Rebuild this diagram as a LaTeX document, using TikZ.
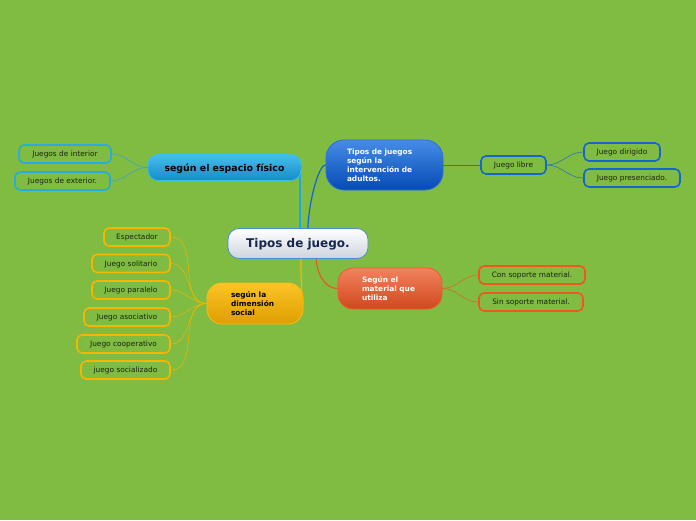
\documentclass[tikz,border=0pt]{standalone}
\usepackage{fontspec}
\setmainfont{DejaVu Sans}
\definecolor{bg}{HTML}{80BC42}
\definecolor{cyanb}{HTML}{2AAAE2}
\definecolor{blueb}{HTML}{1464D6}
\definecolor{yelb}{HTML}{F7B500}
\definecolor{orb}{HTML}{F0561E}
\definecolor{leaftext}{HTML}{1A2410}
\definecolor{cborder}{HTML}{4A90C8}
\definecolor{cbottom}{HTML}{CDD4DE}
\definecolor{ctext}{HTML}{16264E}
\definecolor{espborder}{HTML}{3CBEEB}
\definecolor{esptop}{HTML}{46BEEB}
\definecolor{espbot}{HTML}{148CC8}
\definecolor{aduborder}{HTML}{286EDC}
\definecolor{adutop}{HTML}{468CE6}
\definecolor{adubot}{HTML}{054BB4}
\definecolor{socborder}{HTML}{FABE14}
\definecolor{soctop}{HTML}{FCC428}
\definecolor{socbot}{HTML}{DE9E00}
\definecolor{matborder}{HTML}{F05A28}
\definecolor{mattop}{HTML}{F2825F}
\definecolor{matbot}{HTML}{D0481C}
\definecolor{espline}{HTML}{1EAAE1}
\definecolor{espthin}{HTML}{28A0DC}
\tikzset{
  leaf/.style={draw=#1, line width=1.6pt, fill=bg, rounded corners=5pt, inner sep=0pt,
    minimum height=18pt, text height=5.3pt, text depth=0pt,
    font=\fontsize{7.4}{8}\selectfont, text=leaftext},
  mainnode/.style={draw=#1, line width=0.8pt, inner sep=0pt},
  conn/.style={draw=#1, line width=1.2pt},
  thinconn/.style={draw=#1, line width=0.6pt, opacity=0.8},
}
\begin{document}
\begin{tikzpicture}[x=1pt,y=-1pt]
\fill[bg] (0,0) rectangle (696,520);
\useasboundingbox (0,0) rectangle (696,520);

\coordinate (ct1) at (300,228);
\draw[conn=espline] (ct1) -- (300,167) coordinate (ct2);

% central
\node[mainnode=cborder, top color=white, bottom color=cbottom,
  minimum width=140pt, minimum height=30pt, rounded corners=11pt,
  text height=8.8pt, text depth=0pt,
  font=\fontsize{12}{14}\selectfont\bfseries, text=ctext] (c) at (298,243.5) {Tipos de juego.};

% main nodes
\node[mainnode=espborder, top color=esptop, bottom color=espbot,
  minimum width=153pt, minimum height=26pt, rounded corners=10pt,
  text height=7pt, text depth=0pt,
  font=\fontsize{9.4}{11}\selectfont\bfseries, text=black] (esp) at (224.5,167.5) {según el espacio físico};

\node[mainnode=aduborder, top color=adutop, bottom color=adubot,
  minimum width=117pt, minimum height=50pt, rounded corners=18pt,
  text width=75pt, align=left, font=\fontsize{7.4}{9}\selectfont\bfseries, text=white] (adu) at (384.5,165) {Tipos de juegos\\según la\\intervención de\\adultos.};

\node[mainnode=socborder, top color=soctop, bottom color=socbot,
  minimum width=96pt, minimum height=41pt, rounded corners=15pt,
  text width=48pt, align=left, font=\fontsize{7.4}{9}\selectfont\bfseries, text=black] (soc) at (255,303.5) {según la\\dimensión\\social};

\node[mainnode=matborder, top color=mattop, bottom color=matbot,
  minimum width=104pt, minimum height=41pt, rounded corners=15pt,
  text width=56pt, align=left, font=\fontsize{7.4}{9}\selectfont\bfseries, text=white] (mat) at (390,288.5) {Según el\\material que\\utiliza};

% leaves
\node[leaf=cyanb, minimum width=92pt] (l1) at (65,154) {Juegos de interior};
\node[leaf=cyanb, minimum width=95pt] (l2) at (62.5,181) {Juegos de exterior.};

\node[leaf=blueb, minimum width=65pt] (jl) at (513.5,165) {Juego libre};
\node[leaf=blueb, minimum width=76pt] (jd) at (622,152) {Juego dirigido};
\node[leaf=blueb, minimum width=96pt] (jp) at (632,178) {Juego presenciado.};

\node[leaf=yelb, minimum width=66pt] (s1) at (137,237) {Espectador};
\node[leaf=yelb, minimum width=78pt] (s2) at (131,263.5) {Juego solitario};
\node[leaf=yelb, minimum width=78pt] (s3) at (131,290) {Juego paralelo};
\node[leaf=yelb, minimum width=86pt] (s4) at (127,317) {Juego asociativo};
\node[leaf=yelb, minimum width=93pt] (s5) at (123.5,344) {Juego cooperativo};
\node[leaf=yelb, minimum width=89pt] (s6) at (125.5,370) {juego socializado};

\node[leaf=orb, minimum width=106pt] (m1) at (532,275) {Con soporte material.};
\node[leaf=orb, minimum width=104pt] (m2) at (531,302) {Sin soporte material.};

\draw[conn=espline] (ct2) -- (esp.east);
\draw[conn=blueb] ([xshift=10pt]c.north) .. controls +(0,-20) and +(-8,0) .. (adu.west);
\draw[conn=yelb] ([xshift=3pt]c.south) .. controls +(0,20) and +(-2,-10) .. (soc.east);
\draw[conn=orb] ([xshift=18pt]c.south) .. controls +(2,20) and +(-10,0) .. (mat.west);

% leaf connectors
\draw[thinconn=espthin] (esp.west) to[out=180,in=0] (l1.east);
\draw[thinconn=espthin] (esp.west) to[out=180,in=0] (l2.east);

\draw[thinconn=blueb] (adu.east) -- (jl.west);
\draw[thinconn=blueb] (jl.east) to[out=0,in=180] (jd.west);
\draw[thinconn=blueb] (jl.east) to[out=0,in=180] (jp.west);

\foreach \n in {s1,s2,s3,s4,s5,s6}
  \draw[thinconn=yelb] (soc.west) to[out=180,in=0] (\n.east);

\draw[thinconn=orb] (mat.east) to[out=0,in=180] (m1.west);
\draw[thinconn=orb] (mat.east) to[out=0,in=180] (m2.west);
\end{tikzpicture}
\end{document}
